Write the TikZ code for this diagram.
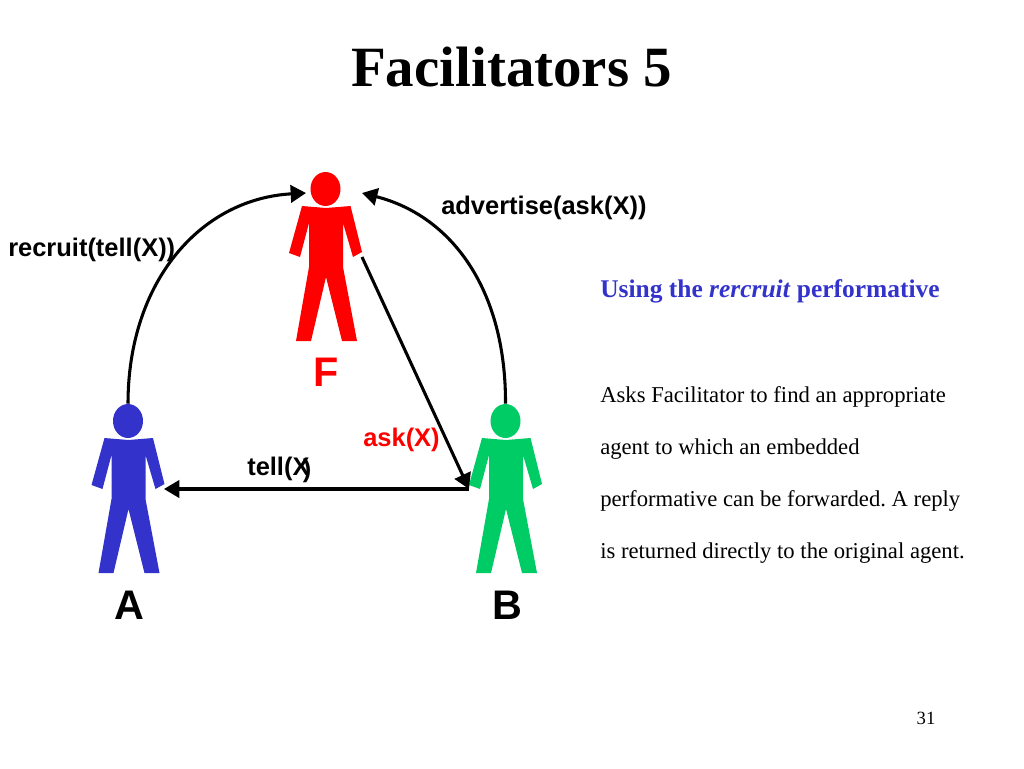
\documentclass[tikz,border=0pt]{standalone}
\usepackage{fontspec}
\setmainfont{Liberation Serif}
\setsansfont{Liberation Sans}
\usetikzlibrary{arrows.meta}
\usetikzlibrary{shapes.geometric}

\definecolor{agentred}{RGB}{255,0,0}
\definecolor{agentblue}{RGB}{51,51,204}
\definecolor{agentgreen}{RGB}{0,204,102}
\definecolor{noteblue}{RGB}{51,51,204}

\tikzset{
    head/.style={ellipse, fill=#1, inner sep=0pt, minimum width=22.5pt, minimum height=25.5pt},
    link/.style={line width=2.3pt, -{Triangle[length=11.5pt, width=13pt]}},
    performative/.style={font=\sffamily\bfseries\fontsize{19.1}{22}\selectfont, inner sep=0pt},
    letter/.style={font=\sffamily\bfseries\fontsize{31}{34}\selectfont, inner sep=0pt},
    noteline/.style={font=\fontsize{17}{20}\selectfont, anchor=west, inner sep=0pt},
    person/.pic={
        \fill (-23.5,17) -- (0.5,19) -- (25,17) -- (36.5,63) -- (27.5,68) -- (17.5,34) -- (17.5,78)
              -- (31.5,152) -- (16.5,152) -- (0.5,88) -- (-14.5,152) -- (-29.5,152) -- (-16.5,78)
              -- (-16.5,34) -- (-25.5,68) -- (-36.5,64) -- cycle;
    }
}

\begin{document}
\frenchspacing
\begin{tikzpicture}[x=0.75pt, y=-0.75pt]
    \useasboundingbox (0,0) rectangle (1024,768);

    \node [font=\bfseries\fontsize{42.7}{46}\selectfont, inner sep=0pt] (title) at (511.5,67) {Facilitators 5};

    % the three agents
    \node [head=agentred] (fhead) at (325.5,189) {};
    \node [head=agentblue] (ahead) at (128,421) {};
    \node [head=agentgreen] (bhead) at (505.5,421) {};
    \pic [fill=agentred] at (fhead.center) {person};
    \pic [fill=agentblue] at (ahead.center) {person};
    \pic [fill=agentgreen] at (bhead.center) {person};

    \node [letter, text=agentred] (fname) at (326,372) {F};
    \node [letter] (aname) at (129,605) {A};
    \node [letter] (bname) at (507,605) {B};

    \coordinate (fwest) at (306,193);
    \coordinate (feast) at (362,193);
    \coordinate (fhand) at (362,257);
    \coordinate (bhand) at (469,489);
    \coordinate (ahand) at (164,489);

    \draw [link] (ahead.north) .. controls (128,282) and (200,199) .. (fwest);
    \draw [link] (bhead.north) .. controls (506,290) and (452,216) .. (feast);
    \draw [link] (fhand) -- (bhand);
    \draw [link] (bhand) -- (ahand);

    \node [performative, anchor=west] (recruit) at (8,249.5) {recruit(tell(X))};
    \node [performative, anchor=west] (advertise) at (441,207.5) {advertise(ask(X))};
    \node [performative, anchor=west, text=agentred] (ask) at (363,440) {ask(X)};
    \node [performative, anchor=west] (tell) at (247,470) {tell(X\hspace{-5pt}\raisebox{-1.5pt}{)}};

    % text on the right
    \node [noteline, font=\bfseries\fontsize{19.1}{22}\selectfont, text=noteblue] (heading) at (600,291)
        {Using the \textit{rercruit} performative};
    \node [noteline] (line1) at (600,397) {Asks Facilitator to find an appropriate};
    \node [noteline] (line2) at (600,449) {agent to which an embedded};
    \node [noteline] (line3) at (600,501) {performative can be forwarded. A reply};
    \node [noteline] (line4) at (600,553) {is returned directly to the original agent.};

    \node [font=\fontsize{14}{16}\selectfont, inner sep=0pt] (page) at (926,718) {31};
\end{tikzpicture}
\end{document}
